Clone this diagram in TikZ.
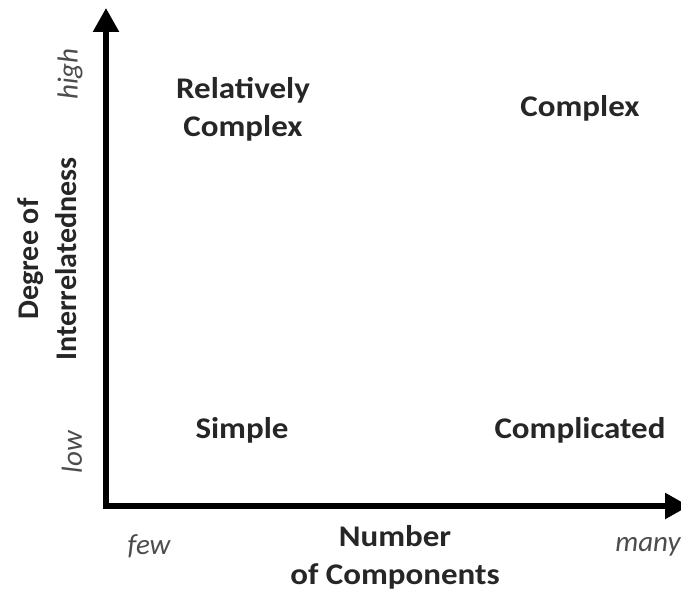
\documentclass[tikz,border=0pt]{standalone}
\usepackage{fontspec}
\setmainfont{Carlito}
\usetikzlibrary{arrows.meta}

\begin{document}
\begin{tikzpicture}[x=1pt, y=1pt,
    quadrant/.style={font=\fontsize{30}{38}\selectfont\bfseries, align=center, text=black!85, inner sep=0pt, xscale=1.1},
    axistitle/.style={font=\fontsize{30}{38}\selectfont\bfseries, align=center, text=black!85, inner sep=0pt},
    endlabel/.style={font=\fontsize{29}{30}\selectfont\itshape, text=black!70, inner sep=0pt},
    axisline/.style={line width=5.5pt, -{Triangle[length=24pt, width=25pt]}}]
  \useasboundingbox (0,0) rectangle (681,592);
  % axes
  \coordinate (origin) at (106,86);
  \coordinate (ytip) at (106,584);
  \coordinate (xtip) at (689,86);
  \draw[axisline] ([yshift=-2.75pt]origin) -- (ytip);
  \draw[axisline] ([xshift=-2.75pt]origin) -- (xtip);
  % quadrants
  \node[quadrant] (relcomplex) at (243,483) {Relatively\\Complex};
  \node[quadrant] (complex) at (580,484) {Complex};
  \node[quadrant] (simple) at (242,162) {Simple};
  \node[quadrant] (complicated) at (580,162) {Complicated};
  % axis labels
  \node[endlabel] (few) at (149,46) {few};
  \node[endlabel] (many) at (648,45) {many};
  \node[axistitle, xscale=1.1] (xtitle) at (395,35) {Number\\of Components};
  \node[endlabel, rotate=90] (high) at (70,518) {high};
  \node[endlabel, rotate=90] (low) at (72,140) {low};
  \node[axistitle, rotate=90] (ytitle) at (47,333) {Degree of\\Interrelatedness};
\end{tikzpicture}
\end{document}
